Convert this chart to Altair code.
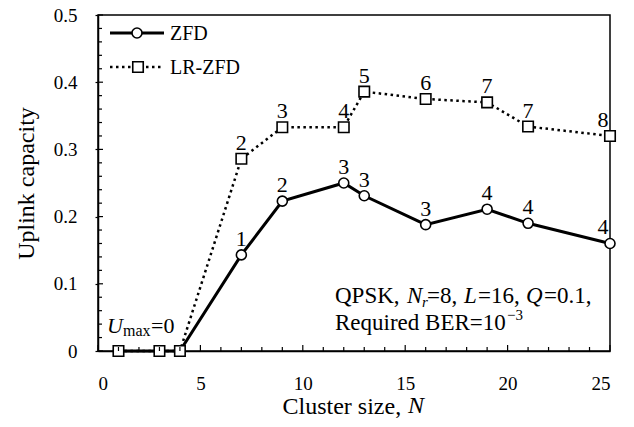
import altair as alt
import pandas as pd

# ---- data ----
N = [1, 3, 4, 7, 9, 12, 13, 16, 19, 21, 25]
zfd = [0, 0, 0, 0.143, 0.223, 0.25, 0.231, 0.188, 0.211, 0.19, 0.16]
lrzfd = [0, 0, 0, 0.286, 0.333, 0.333, 0.386, 0.375, 0.37, 0.334, 0.32]
zfd_lbl = ["", "", "", "1", "2", "3", "3", "3", "4", "4", "4"]
lr_lbl = ["", "", "", "2", "3", "4", "5", "6", "7", "7", "8"]
x_major = [0, 5, 10, 15, 20, 25]
x_minor = [v for v in range(0, 26) if v % 5 != 0]
y_major = [0, 0.1, 0.2, 0.3, 0.4, 0.5]
y_minor = [round(i * 0.02, 2) for i in range(0, 26) if i % 5 != 0]

FONT = "Liberation Serif"
W, H = 512, 336

df = pd.DataFrame({
    "N": N * 2,
    "cap": zfd + lrzfd,
    "series": ["ZFD"] * len(N) + ["LR-ZFD"] * len(N),
    "lbl": zfd_lbl + lr_lbl,
})

xs = alt.Scale(domain=[0, 25], nice=False, zero=False)
ys = alt.Scale(domain=[0, 0.5], nice=False)

X = alt.X("N:Q", scale=xs, axis=alt.Axis(values=x_major, title="Cluster size,  ", ticks=False,
                                          labelPadding=23, titleFontSize=24, titleY=62, titleX=184,
                                          titleAlign="left", labelFont=FONT, titleFont=FONT,
                                          titleBaseline="alphabetic", format="d"))
Y = alt.Y("cap:Q", scale=ys, axis=alt.Axis(values=y_major, title="Uplink capacity", tickSize=3,
                                            labelPadding=18, titleFontSize=24, titleX=-65,
                                            labelFont=FONT, titleFont=FONT,
                                            titleBaseline="alphabetic", format="~g"))

base = alt.Chart(df)

line_z = base.transform_filter("datum.series == 'ZFD'").mark_line(
    color="black", strokeWidth=3).encode(x=X, y=Y)
line_lr = base.transform_filter("datum.series == 'LR-ZFD'").mark_line(
    color="black", strokeWidth=2.5, strokeDash=[2.5, 3.5]).encode(x=X, y=Y)
pts_z = base.transform_filter("datum.series == 'ZFD'").mark_point(
    shape="circle", size=100, filled=True, fill="white", stroke="black", strokeWidth=1.6, opacity=1
).encode(x=X, y=Y)
pts_lr = base.transform_filter("datum.series == 'LR-ZFD'").mark_point(
    shape="square", size=110, filled=True, fill="white", stroke="black", strokeWidth=1.6, opacity=1
).encode(x=X, y=Y)

lbl_mid = base.transform_filter("datum.lbl != '' && datum.N < 25").mark_text(
    font=FONT, fontSize=22, baseline="alphabetic", dy=-9, color="black"
).encode(x=X, y=Y, text="lbl:N")
lbl_end = base.transform_filter("datum.lbl != '' && datum.N == 25").mark_text(
    font=FONT, fontSize=22, baseline="alphabetic", dy=-9, dx=-7, color="black"
).encode(x=X, y=Y, text="lbl:N")

# inward ticks
tick_y_minor = alt.Chart(pd.DataFrame({"v": y_minor})).mark_rule(color="black", strokeWidth=1.2).encode(
    y=alt.Y("v:Q", scale=ys), x=alt.value(0), x2=alt.value(4))
tick_y_major = alt.Chart(pd.DataFrame({"v": y_major})).mark_rule(color="black", strokeWidth=1.2).encode(
    y=alt.Y("v:Q", scale=ys), x=alt.value(0), x2=alt.value(5))
tick_x_minor = alt.Chart(pd.DataFrame({"v": x_minor})).mark_rule(color="black", strokeWidth=1.2).encode(
    x=alt.X("v:Q", scale=xs), y=alt.value(H), y2=alt.value(H - 4))
tick_x_major = alt.Chart(pd.DataFrame({"v": x_major})).mark_rule(color="black", strokeWidth=1.2).encode(
    x=alt.X("v:Q", scale=xs), y=alt.value(H), y2=alt.value(H - 6))

def txt(s, x, y, size=22, italic=False):
    kw = {"fontStyle": "italic"} if italic else {}
    return alt.Chart(pd.DataFrame({"a": [0]})).mark_text(
        text=s, font=FONT, fontSize=size, align="left",
        baseline="alphabetic", color="black", **kw
    ).encode(x=alt.value(x), y=alt.value(y))

# legend
leg = [
    alt.Chart(pd.DataFrame({"a": [0]})).mark_rule(color="black", strokeWidth=3).encode(
        x=alt.value(12), x2=alt.value(66), y=alt.value(18)),
    alt.Chart(pd.DataFrame({"a": [0]})).mark_point(shape="circle", size=100, filled=True, fill="white",
                                                  stroke="black", strokeWidth=1.6, opacity=1).encode(
        x=alt.value(39), y=alt.value(18)),
    txt("ZFD", 72, 25, size=20),
    alt.Chart(pd.DataFrame({"a": [0]})).mark_rule(color="black", strokeWidth=2.5, strokeDash=[2.5, 3.5]).encode(
        x=alt.value(12), x2=alt.value(66), y=alt.value(52)),
    alt.Chart(pd.DataFrame({"a": [0]})).mark_point(shape="square", size=110, filled=True, fill="white",
                                                  stroke="black", strokeWidth=1.6, opacity=1).encode(
        x=alt.value(40), y=alt.value(52)),
    txt("LR-ZFD", 72, 59, size=20),
]

# annotations
x0, b1, b2 = 237, 288, 315
A = 23
ann = [
    txt("QPSK, ", x0, b1, size=A),
    txt("N", x0 + 72, b1, size=A, italic=True),
    txt("r", x0 + 87, b1 + 4, size=15, italic=True),
    txt("=8, ", x0 + 92, b1, size=A),
    txt("L", x0 + 129, b1, size=A, italic=True),
    txt("=16, ", x0 + 143, b1, size=A),
    txt("Q", x0 + 191, b1, size=A, italic=True),
    txt("=0.1,", x0 + 209, b1, size=A),
    txt("Required BER=10", x0, b2, size=A),
    txt("\u22123", x0 + 172, b2 - 10, size=15),
    txt("U", 9, 318, italic=True),
    txt("max", 25, 321, size=16),
    txt("=0", 53, 318),
    # italic N of the x-axis title
    txt("N", 184 + 126, H + 62, size=24, italic=True),
]

chart = alt.layer(
    line_z, line_lr, pts_z, pts_lr, lbl_mid, lbl_end,
    tick_y_minor, tick_y_major, tick_x_minor, tick_x_major,
    *leg, *ann
).properties(
    width=W, height=H,
    autosize=alt.AutoSizeParams(type="none"),
    padding={"left": 90, "top": 7, "right": 16, "bottom": 68},
).configure(
    font=FONT
).configure_axis(
    grid=False, domainColor="black", domainWidth=1.5, tickColor="black", tickWidth=1.2,
    labelFont=FONT, labelFontSize=19, labelColor="black",
    titleFont=FONT, titleColor="black", titleFontWeight="normal",
).configure_text(
    font=FONT
).configure_view(
    stroke="black", strokeWidth=1.5
)

chart.save("out.html", embed_options={"renderer": "svg", "actions": False})
